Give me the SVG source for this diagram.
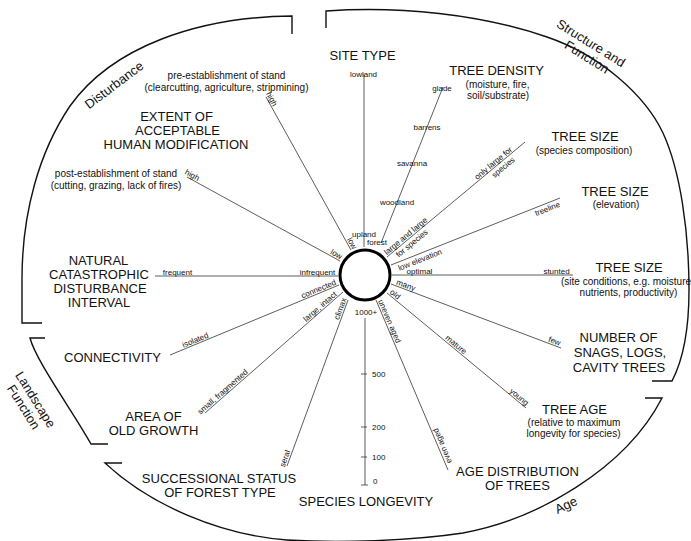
<svg xmlns="http://www.w3.org/2000/svg" width="691" height="541" viewBox="0 0 691 541">
<style>
text{font-family:"Liberation Sans",Arial,Helvetica,sans-serif;fill:#111}
.big{font-size:13px;text-anchor:middle}
.sub{font-size:10px;text-anchor:middle}
.sm{font-size:8px;text-anchor:middle}
.st{text-anchor:start}
.spoke{stroke:#333;stroke-width:0.8;fill:none}
.arc{stroke:#111;stroke-width:1.4;fill:none}
</style>
<rect width="691" height="541" fill="#fff"/>

<g id="group-brackets">
  <g id="disturbance">
    <path class="arc" d="M292,34 L292,16 C197,17 112,47 70,106 C39,152 22,213 22,279 L22,323 L42,323"/>
    <text class="big" transform="translate(114,85) rotate(-37)" y="4.5">Disturbance</text>
  </g>
  <g id="structure-function">
    <path class="arc" d="M326,28 L326,11 C400,6 480,14 547,37 C600,55 645,95 663,133 C680,170 689,230 689,290 C689,330 683,360 672,381 L652,381"/>
    <g transform="translate(591,43) rotate(32)">
      <text class="big" y="4.5">Structure and</text>
      <text class="big" x="4" y="18.5">Function</text>
    </g>
  </g>
  <g id="landscape-function">
    <path class="arc" d="M45,338 L30,338 C36,361 72,410 91,444 L108,444"/>
    <g transform="translate(35.5,399.5) rotate(58)">
      <text class="big" y="4.5">Landscape</text>
      <text class="big" y="18.5">Function</text>
    </g>
  </g>
  <g id="age">
    <path class="arc" d="M122,463 L105,463 C150,505 220,535 287,540 C340,543 410,541 463,533 C535,520 625,470 662,398 L645,398"/>
    <text class="big" transform="translate(566,505) rotate(-25)" y="4.5">Age</text>
  </g>
</g>

<g id="connectors">
  <path class="spoke" d="M364,74 V247"/>
  <path class="spoke" d="M443,87 L381,243"/>
  <path class="spoke" d="M525,142 L387,257"/>
  <path class="spoke" d="M560,198 L391,265"/>
  <path class="spoke" d="M392,275 H573"/>
  <path class="spoke" d="M391,284 L561,348"/>
  <path class="spoke" d="M387,293 L526,408"/>
  <path class="spoke" d="M376,300 L448,470"/>
  <path class="spoke" d="M365,318 V485 M361,374 H367 M361,427 H367 M361,457 H367 M361,485 H368"/>
  <path class="spoke" d="M348,300 L287,466"/>
  <path class="spoke" d="M343,292 L205,413"/>
  <path class="spoke" d="M339,285 L170,355"/>
  <path class="spoke" d="M155,276 H338"/>
  <path class="spoke" d="M340,261 L187,177"/>
  <path class="spoke" d="M351,250 L266,97"/>

  <text class="sm" x="363.5" y="77">lowland</text>
  <text class="sm" x="364" y="237">upland</text>
  <text class="sm st" x="367" y="245">forest</text>

  <text class="sm" x="442" y="91">glade</text>
  <text class="sm" x="427" y="130">barrens</text>
  <text class="sm" x="412" y="166">savanna</text>
  <text class="sm" x="397" y="205">woodland</text>

  <g transform="translate(408.4,239.2) rotate(-39.8)">
    <text class="sm" y="-1.5">large and large</text>
    <text class="sm" y="8">for species</text>
  </g>
  <g transform="translate(496,166.4) rotate(-39.8)">
    <text class="sm" y="-1.5">only large for</text>
    <text class="sm" x="5" y="8">species</text>
  </g>

  <text class="sm" transform="translate(417.8,254.4) rotate(-21.6)" y="8.5">low elevation</text>
  <text class="sm" transform="translate(545.4,203.8) rotate(-21.6)" y="8">treeline</text>

  <text class="sm" x="419.5" y="273.5">optimal</text>
  <text class="sm" x="556.5" y="273.5">stunted</text>

  <text class="sm" transform="translate(404.5,289.1) rotate(20.6)" y="-1.5">many</text>
  <text class="sm" transform="translate(553.1,345) rotate(20.6)" y="-1.5">few</text>

  <text class="sm" transform="translate(392.5,297.5) rotate(39.6)" y="-1.5">old</text>
  <text class="sm" transform="translate(453.4,347.9) rotate(39.6)" y="-1.5">mature</text>
  <text class="sm" transform="translate(516.5,400.1) rotate(39.6)" y="-1.5">young</text>

  <text class="sm" transform="translate(385.7,322.9) rotate(67)" y="-1.5">uneven aged</text>
  <text class="sm" transform="translate(442,446) rotate(-113)" y="3">even aged</text>

  <text class="sm" x="366" y="315">1000+</text>
  <text class="sm st" x="372" y="377">500</text>
  <text class="sm st" x="372" y="430">200</text>
  <text class="sm st" x="372" y="460">100</text>
  <text class="sm st" x="373" y="484">0</text>

  <text class="sm" transform="translate(344.2,310.2) rotate(-69.7)" y="-1.5">climax</text>
  <text class="sm" transform="translate(288.8,460) rotate(-69.7)" y="-1.5">seral</text>

  <text class="sm" transform="translate(322.8,309.7) rotate(-41.2)" y="-1.5">large, intact</text>
  <text class="sm" transform="translate(225.5,394.9) rotate(-41.2)" y="-1.5">small, fragmented</text>

  <text class="sm" transform="translate(320.2,292.8) rotate(-22.5)" y="-1.5">connected</text>
  <text class="sm" transform="translate(196.9,343.9) rotate(-22.5)" y="-1.5">isolated</text>

  <text class="sm" x="177.5" y="275">frequent</text>
  <text class="sm" x="317.5" y="275">infrequent</text>

  <text class="sm" transform="translate(334.4,257.9) rotate(28.8)" y="-1.5">low</text>
  <text class="sm" transform="translate(190.2,178.8) rotate(28.8)" y="-1.5">high</text>

  <text class="sm" transform="translate(348.4,245.4) rotate(60.9)" y="-1.5">low</text>
  <text class="sm" transform="translate(268,101) rotate(60.9)" y="-1.5">high</text>
</g>

<g id="hub">
  <circle cx="365" cy="275" r="25" fill="#fff" stroke="#000" stroke-width="3"/>
</g>

<g id="site-type"><text class="big" x="362.5" y="60">SITE TYPE</text></g>
<g id="tree-density">
  <text class="big" x="496.5" y="75">TREE DENSITY</text>
  <text class="sub" x="497.5" y="88">(moisture, fire,</text>
  <text class="sub" x="498" y="99">soil/substrate)</text>
</g>
<g id="tree-size-species">
  <text class="big" x="585" y="141">TREE SIZE</text>
  <text class="sub" x="584" y="154">(species composition)</text>
</g>
<g id="tree-size-elevation">
  <text class="big" x="615" y="196">TREE SIZE</text>
  <text class="sub" x="616" y="208">(elevation)</text>
</g>
<g id="tree-size-site">
  <text class="big" x="629" y="272">TREE SIZE</text>
  <text class="sub" x="626" y="285">(site conditions, e.g. moisture</text>
  <text class="sub" x="628.5" y="296">nutrients, productivity)</text>
</g>
<g id="snags">
  <text class="big" x="618.5" y="342">NUMBER OF</text>
  <text class="big" x="620" y="357">SNAGS, LOGS,</text>
  <text class="big" x="619" y="372">CAVITY TREES</text>
</g>
<g id="tree-age">
  <text class="big" x="574.5" y="414">TREE AGE</text>
  <text class="sub" x="574" y="426">(relative to maximum</text>
  <text class="sub" x="573.5" y="437">longevity for species)</text>
</g>
<g id="age-distribution">
  <text class="big" x="517.5" y="476">AGE DISTRIBUTION</text>
  <text class="big" x="517.5" y="490">OF TREES</text>
</g>
<g id="species-longevity"><text class="big" x="366" y="506">SPECIES LONGEVITY</text></g>
<g id="successional-status">
  <text class="big" x="219" y="483">SUCCESSIONAL STATUS</text>
  <text class="big" x="220" y="497">OF FOREST TYPE</text>
</g>
<g id="area-old-growth">
  <text class="big" x="153.5" y="421">AREA OF</text>
  <text class="big" x="153.5" y="435">OLD GROWTH</text>
</g>
<g id="connectivity"><text class="big" x="112.5" y="362">CONNECTIVITY</text></g>
<g id="disturbance-interval">
  <text class="big" x="98.5" y="265">NATURAL</text>
  <text class="big" x="99" y="279">CATASTROPHIC</text>
  <text class="big" x="100" y="293">DISTURBANCE</text>
  <text class="big" x="99" y="307">INTERVAL</text>
</g>
<g id="human-modification">
  <text class="big" x="176.5" y="121">EXTENT OF</text>
  <text class="big" x="177.5" y="135">ACCEPTABLE</text>
  <text class="big" x="176" y="149">HUMAN MODIFICATION</text>
  <text class="sub" x="226.5" y="79">pre-establishment of stand</text>
  <text class="sub" x="226.5" y="91">(clearcutting, agriculture, stripmining)</text>
  <text class="sub" x="116" y="177">post-establishment of stand</text>
  <text class="sub" x="116" y="189">(cutting, grazing, lack of fires)</text>
</g>
</svg>
